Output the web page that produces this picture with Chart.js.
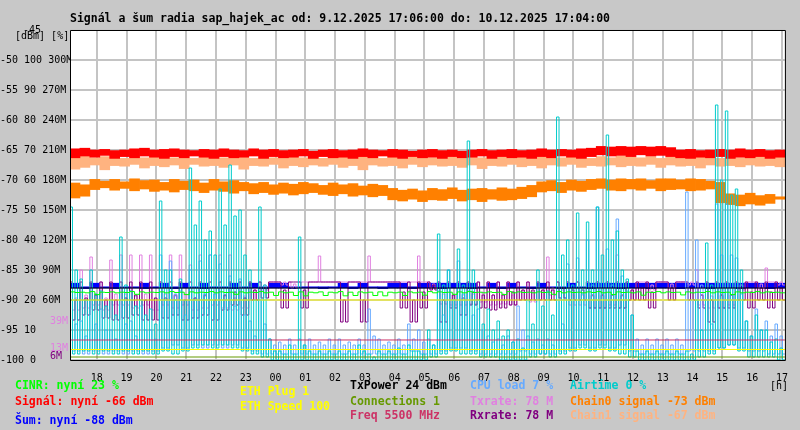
<!DOCTYPE html>
<html>
<head>
<meta charset="utf-8">
<script src="https://cdn.jsdelivr.net/npm/chart.js@4.4.1/dist/chart.umd.min.js"></script>
<style>
  html, body { margin: 0; padding: 0; background: #c8c8c8; }
  canvas { display: block; }
</style>
</head>
<body>
<canvas id="graf" width="800" height="430" style="width:800px;height:430px"></canvas>
<script>
// time: hours after 9.12. 17:00, samples in 20 min bins
// noisy series: peak (hi), floor (lo) and typical top (mid) of each bin
const hoursStart = 0.1;
const hoursEnd = 24.1;
const binHours = 1 / 3;
const hourTicks = [1,2,3,4,5,6,7,8,9,10,11,12,13,14,15,16,17,18,19,20,21,22,23,24];

// Airtime [%]
const airtimeHi = [51,27,30,23,20,41,23,20,17,53, 30,27,64,53,43,57,65,50,30,51, 7,3,5,41,3,3,3,3,3,5, 2,3,3,4,5,3,10,42,30,37, 73,20,17,13,10,7,20,30,23,81, 40,49,46,51,75,43,27,3,3,3, 3,3,3,20,39,85,83,57,13,15, 10,7];
const airtimeMid = [30,20,22,18,15,25,18,15,12,30, 20,20,45,40,35,45,48,35,20,25, 3,2,2,5,2,2,2,2,2,3, 1,2,2,2,3,2,5,25,20,25, 30,12,10,8,6,4,12,18,15,35, 25,30,30,35,40,30,15,2,2,2, 2,2,2,10,25,60,55,30,8,10, 6,4];
const airtimeLo = [2,3,2,3,2,3,2,3,2,3, 2,3,4,5,4,5,4,3,2,1, 0,0,0,0,0,0,0,0,0,0, 0,0,0,0,0,0,1,2,3,2, 2,1,1,0,0,0,1,2,1,2, 3,4,3,4,3,2,1,0,0,0, 0,0,0,1,2,4,5,3,1,1, 1,0];

// CPU load [%]
const cpuHi = [20,13,20,17,10,20,13,18,10,35, 33,23,30,33,35,32,28,27,13,20, 7,6,7,7,7,6,7,7,6,7, 17,7,6,7,12,10,7,23,30,33, 23,17,8,7,8,18,8,7,7,20, 32,34,40,51,37,47,23,7,7,7, 7,7,56,40,20,52,52,34,13,17, 13,12];
const cpuMid = [12,8,12,10,7,12,8,10,7,20, 22,15,20,22,22,20,18,15,8,12, 5,5,5,5,5,5,5,5,5,5, 8,5,5,5,7,6,5,15,20,22, 15,10,6,5,6,10,6,5,5,12, 20,22,25,30,25,28,15,5,5,5, 5,5,20,25,12,35,35,22,8,10, 8,8];
const cpuLo = [3,2,3,2,3,2,3,2,3,4, 5,4,5,4,5,4,5,4,3,2, 2,2,2,2,2,2,2,2,2,2, 2,2,2,2,3,2,2,3,4,4, 3,2,2,2,2,3,2,2,2,3, 4,5,4,5,4,5,3,2,2,2, 2,2,3,3,3,4,5,4,3,3, 2,2];

// Txrate / Rxrate [M]
const txrateHi = [78,90,103,78,100,105,105,105,105,78, 105,105,95,105,105,105,105,78,78,78, 78,78,78,78,78,104,78,78,78,78, 104,78,78,78,78,104,78,78,78,78, 78,78,78,78,78,78,78,78,103,78, 78,78,78,78,78,105,78,78,78,78, 78,78,78,90,78,78,78,78,78,78, 92,78];
const txrateMid = [62,65,66,62,66,66,64,66,62,66, 64,66,62,64,66,64,62,64,70,75, 78,78,76,78,78,78,78,78,78,78, 78,78,78,78,78,78,76,66,65,65, 66,68,65,66,65,70,68,70,72,70, 65,65,64,64,65,64,70,78,75,78, 76,78,78,65,64,64,65,75,78,76, 78,78];
const txrateLo = [50,52,55,50,55,55,52,55,50,55, 52,55,50,52,55,52,50,52,60,70, 78,75,72,78,78,78,78,78,78,78, 78,78,78,78,78,78,72,56,55,55, 56,58,55,56,55,60,58,60,65,60, 55,55,52,52,55,52,60,78,70,78, 72,78,75,55,52,52,55,70,78,72, 78,75];
const rxrateTop = 78;
const rxrateMid = [60,62,65,60,60,62,65,60,62,62, 65,60,62,65,60,65,68,62,70,72, 78,70,78,70,78,78,78,60,78,60, 78,78,78,68,60,68,75,60,65,62, 68,65,65,65,68,70,70,70,70,72, 70,70,65,65,65,65,70,72,68,78, 72,78,72,65,60,65,65,72,68,72, 68,72];
const rxrateLo = [40,45,50,42,40,42,45,40,40,42, 45,40,42,45,40,50,55,45,60,62, 78,52,78,52,78,78,78,38,78,38, 78,78,78,52,38,52,70,38,52,45, 55,52,50,52,55,60,60,60,60,62, 60,60,52,52,52,52,60,60,52,78, 60,78,60,52,38,52,52,60,52,60, 52,60];

// Signal, chains, noise [dBm] - upper / lower edge of the band in each bin
const signalHi = [-64.8,-64.7,-65.0,-64.9,-65.1,-65.0,-64.8,-64.7,-65.0,-64.9, -64.8,-65.0,-65.1,-64.9,-65.0,-64.8,-65.0,-65.1,-64.8,-65.0, -64.9,-65.1,-65.0,-64.9,-65.2,-65.0,-64.9,-65.1,-65.0,-64.8, -65.0,-65.1,-64.9,-65.0,-65.2,-65.0,-64.9,-65.1,-65.0,-65.2, -65.0,-64.9,-65.1,-65.0,-64.9,-65.1,-65.0,-64.8,-65.0,-64.9, -65.0,-64.8,-64.7,-64.4,-64.5,-64.4,-64.5,-64.4,-64.5,-64.4, -64.6,-65.0,-64.9,-65.1,-65.0,-64.9,-65.0,-64.8,-65.0,-64.9, -65.1,-65.0];
const signalLo = [-66.3,-66.0,-66.2,-65.9,-66.4,-66.1,-66.3,-66.0,-66.2,-66.4, -66.1,-66.3,-66.0,-66.2,-66.4,-66.1,-66.3,-66.2,-66.0,-66.4, -66.1,-66.3,-66.2,-66.0,-66.4,-66.1,-66.3,-66.2,-66.4,-66.1, -66.3,-66.0,-66.2,-66.4,-66.1,-66.3,-66.2,-66.4,-66.1,-66.3, -66.2,-66.0,-66.4,-66.1,-66.3,-66.2,-66.4,-66.1,-66.3,-66.0, -66.2,-66.4,-66.1,-65.8,-66.0,-65.9,-66.1,-65.8,-66.0,-65.9, -66.1,-66.3,-66.4,-66.2,-66.3,-66.1,-66.4,-66.2,-66.3,-66.1, -66.4,-66.2];
const chain1Hi = [-66.2,-66.0,-66.3,-66.1,-66.2,-66.4,-66.1,-66.3,-66.2,-66.0, -66.3,-66.1,-66.4,-66.2,-66.0,-66.3,-66.1,-66.2,-66.4,-66.1, -66.3,-66.2,-66.0,-66.3,-66.1,-66.4,-66.2,-66.1,-66.3,-66.0, -66.2,-66.4,-66.1,-66.3,-66.2,-66.0,-66.3,-66.1,-66.2,-66.4, -66.1,-66.3,-66.0,-66.2,-66.4,-66.1,-66.3,-66.2,-66.0,-66.3, -66.1,-66.2,-66.4,-66.1,-66.3,-66.0,-66.2,-66.3,-66.1,-66.4, -66.2,-66.0,-66.3,-66.1,-66.2,-66.4,-66.1,-66.3,-66.0,-66.2, -66.3,-66.1];
const chain1Lo = [-68.2,-67.9,-67.5,-68.3,-67.6,-67.7,-67.4,-68.0,-67.6,-67.8, -67.5,-68.1,-67.4,-67.7,-67.6,-67.9,-67.5,-68.2,-67.6,-67.7, -67.4,-68.0,-67.6,-67.8,-67.5,-67.7,-67.4,-67.9,-67.6,-68.3, -67.5,-67.7,-67.6,-68.0,-67.4,-67.8,-67.5,-67.7,-67.6,-67.9, -67.5,-68.1,-67.6,-67.7,-67.4,-67.8,-67.6,-68.0,-67.5,-67.7, -67.4,-67.9,-67.6,-67.7,-67.5,-67.8,-67.6,-67.7,-67.4,-67.9, -67.5,-67.7,-67.6,-68.0,-67.5,-67.7,-67.6,-67.8,-67.5,-67.7, -67.6,-67.8];
const chain0Hi = [-70.5,-70.8,-69.9,-70.2,-69.9,-70.3,-69.8,-70.1,-70.0,-70.4, -69.9,-70.2,-70.0,-70.5,-69.9,-70.3,-70.1,-70.4,-70.6,-70.4, -70.8,-70.5,-70.7,-70.4,-70.6,-70.9,-70.5,-70.8,-70.6,-71.0, -70.7,-70.9,-71.4,-71.7,-71.5,-71.8,-71.4,-71.6,-71.3,-71.7, -71.5,-71.4,-71.6,-71.3,-71.5,-71.2,-70.9,-70.3,-70.1,-70.4, -70.0,-70.2,-69.9,-69.8,-70.0,-69.8,-69.9,-69.8,-70.1,-69.8, -69.8,-70.0,-69.8,-69.9,-70.2,-70.4,-72.3,-72.5,-72.2,-72.6, -72.4,-72.8];
const chain0Lo = [-73.0,-72.7,-71.6,-71.3,-71.7,-71.4,-71.8,-71.5,-71.9,-71.7, -72.0,-71.6,-71.8,-72.1,-71.7,-71.9,-72.2,-71.8,-72.3,-72.1, -72.4,-72.2,-72.5,-72.3,-72.1,-72.4,-72.6,-72.3,-72.7,-72.5, -72.8,-72.6,-73.3,-73.5,-73.2,-73.6,-73.3,-73.4,-73.1,-73.5, -73.3,-73.6,-73.2,-73.4,-73.3,-73.1,-72.8,-72.0,-71.8,-72.1, -71.7,-71.9,-71.6,-71.4,-71.7,-71.8,-71.5,-71.7,-71.4,-71.8, -71.6,-71.5,-71.8,-71.7,-71.5,-73.8,-74.1,-74.3,-74.0,-74.2, -73.9,-73.2];
const noiseHi = [-87.2,-87.8,-87.2,-87.8,-87.2,-87.8,-87.8,-87.2,-87.8,-87.2, -87.8,-87.2,-87.8,-87.2,-87.8,-87.8,-87.2,-87.8,-87.2,-87.8, -87.2,-87.2,-87.8,-87.8,-87.8,-87.8,-87.8,-87.2,-87.8,-87.2, -87.8,-87.8,-87.2,-87.2,-87.8,-87.2,-87.2,-87.2,-87.2,-87.2, -87.2,-87.8,-87.2,-87.8,-87.2,-87.8,-87.8,-87.2,-87.8,-87.8, -87.2,-87.8,-87.2,-87.2,-87.2,-87.2,-87.2,-87.2,-87.2,-87.2, -87.2,-87.2,-87.2,-87.2,-87.2,-87.2,-87.2,-87.2,-87.2,-87.2, -87.2,-87.2];
const noiseLo = [-88.0,-88.1,-88.0,-88.0,-88.1,-88.0,-88.0,-88.1,-88.0,-88.0, -88.1,-88.0,-88.0,-88.1,-88.0,-88.0,-88.1,-88.0,-88.0,-88.1, -88.0,-88.0,-88.1,-88.0,-88.0,-88.1,-88.0,-88.0,-88.1,-88.0, -88.0,-88.1,-88.0,-88.0,-88.1,-88.0,-88.0,-88.1,-88.0,-88.0, -88.1,-88.0,-88.0,-88.1,-88.0,-88.0,-88.1,-88.0,-88.0,-88.1, -88.0,-88.0,-88.1,-88.0,-88.0,-88.1,-88.0,-88.0,-88.1,-88.0, -88.0,-88.1,-88.0,-88.0,-88.1,-88.0,-88.0,-88.1,-88.0,-88.0, -88.1,-88.0];

// CINR [%]
const cinrHi = [22.7,22.6,22.8,22.6,22.7,22.6,22.8,22.7,22.6,22.7, 22.8,22.6,22.7,22.6,22.8,22.7,22.6,22.7,22.6,22.8, 22.6,22.7,22.6,22.7,22.6,22.7,22.6,22.8,22.6,22.7, 22.6,22.7,22.6,22.6,22.7,22.6,22.8,22.7,22.6,22.7, 22.8,22.6,22.7,22.6,22.8,22.7,22.6,22.7,22.6,22.8, 22.7,22.6,22.7,22.8,22.6,22.7,22.6,22.7,22.6,22.8, 22.7,22.6,22.7,22.6,22.8,22.7,22.6,22.7,22.6,22.8, 22.7,22.6];
const cinrLo = [22.5,22.4,21.8,22.5,22.4,22.5,21.9,22.4,22.5,22.4, 22.5,21.8,22.4,22.5,22.4,22.5,21.9,22.4,22.5,22.4, 21.5,22.4,21.5,21.4,22.4,21.5,22.4,21.4,21.5,22.4, 21.5,21.4,22.4,21.5,22.4,21.6,22.4,22.5,21.9,22.4, 22.5,22.4,22.5,21.8,22.4,22.5,22.4,22.5,21.9,22.4, 22.5,22.4,22.5,22.4,21.8,22.5,22.4,21.6,22.5,22.4, 22.5,21.7,22.4,22.5,22.4,22.5,21.8,22.4,22.5,22.4, 22.5,22.4];

// constant lines, in the [%] column units of the graph
const txPowerLevel = 24;
const connectionsLevel = 1;
const freqLevel = 6.67;
const ethSpeedLevel = 20;
const ethPlugLevel = 3.5;

// labels in the left margin for the rate column [M]
const rateMarks = [39, 13, 6];
const rateMarkColors = ['#e080e0', '#e080e0', '#800080'];

const monoFont = '"DejaVu Sans Mono", "Liberation Mono", monospace';

function at(arr, i) { return Array.isArray(arr) ? arr[i] : arr; }

// hi, lo (and mid, lo) inside each bin
function binPoints(hi, lo, mid) {
  const pts = [];
  const step = mid ? binHours / 4 : binHours / 2;
  for (let i = 0; i < lo.length; i++) {
    const t = hoursStart + i * binHours;
    pts.push({ x: t, y: at(hi, i) });
    pts.push({ x: t + step, y: lo[i] });
    if (mid) {
      pts.push({ x: t + 2 * step, y: mid[i] });
      pts.push({ x: t + 3 * step, y: lo[i] });
    }
  }
  pts.push({ x: hoursEnd, y: lo[lo.length - 1] });
  return pts;
}

function flatPoints(v) {
  return [{ x: hoursStart, y: v }, { x: hoursEnd, y: v }];
}

function serie(data, color, axis, order) {
  return {
    type: 'line',
    data: data,
    parsing: false,
    borderColor: color,
    borderWidth: 1,
    pointRadius: 0,
    stepped: true,
    fill: false,
    yAxisID: axis,
    order: order
  };
}

// a band of min..max per bin, drawn as floating bars
function band(hi, lo, color, order) {
  return {
    type: 'bar',
    data: lo.map((l, i) => ({ x: hoursStart + (i + 0.5) * binHours, y: [l, hi[i]] })),
    backgroundColor: color,
    borderWidth: 0,
    barThickness: 10,
    grouped: false,
    yAxisID: 'y',
    order: order
  };
}

const legendItems = [
  ['CINR: nyní 23 %', 15, 386, '#00ff00'],
  ['Signál: nyní -66 dBm', 15, 402, '#ff0000'],
  ['Šum: nyní -88 dBm', 15, 421, '#0000ff'],
  ['ETH Plug 1', 240, 392, '#ffff00'],
  ['ETH Speed 100', 240, 407, '#ffff00'],
  ['TxPower 24 dBm', 350, 386, '#000000'],
  ['Connections 1', 350, 402, '#669900'],
  ['Freq 5500 MHz', 350, 416.5, '#cc3366'],
  ['CPU load 7 %', 470, 386, '#66aaff'],
  ['Txrate: 78 M', 470, 402, '#e080e0'],
  ['Rxrate: 78 M', 470, 416.5, '#800080'],
  ['Airtime 0 %', 570, 386, '#00cccc'],
  ['Chain0 signal -73 dBm', 570, 402, '#ff8000'],
  ['Chain1 signal -67 dBm', 570, 416.5, '#ffb380']
];

const rrdLook = {
  id: 'rrdLook',
  beforeDraw(chart) {
    const ctx = chart.ctx;
    const a = chart.chartArea;
    ctx.save();
    ctx.fillStyle = '#c8c8c8';
    ctx.fillRect(0, 0, chart.width, chart.height);
    ctx.fillStyle = '#ffffff';
    ctx.fillRect(a.left, a.top, a.right - a.left, a.bottom - a.top);
    ctx.restore();
  },
  afterDatasetsDraw(chart) {
    const ctx = chart.ctx;
    const a = chart.chartArea;
    ctx.save();
    ctx.strokeStyle = '#000';
    ctx.lineWidth = 1;
    ctx.beginPath();
    ctx.moveTo(a.left + 0.5, a.top + 0.5);
    ctx.lineTo(a.right + 0.5, a.top + 0.5);
    ctx.lineTo(a.right + 0.5, a.bottom + 0.5);
    ctx.lineTo(a.left + 0.5, a.bottom + 0.5);
    ctx.closePath();
    ctx.stroke();
    ctx.restore();
  },
  afterDraw(chart) {
    const ctx = chart.ctx;
    ctx.save();
    ctx.textBaseline = 'middle';
    ctx.textAlign = 'left';

    ctx.font = 'bold 11.5px ' + monoFont;
    ctx.fillStyle = '#000';
    ctx.fillText('Signál a šum radia sap_hajek_ac od: 9.12.2025 17:06:00 do: 10.12.2025 17:04:00', 70, 19);

    legendItems.forEach(([text, x, y, color]) => {
      ctx.fillStyle = color;
      ctx.fillText(text, x, y);
    });

    ctx.font = '10px ' + monoFont;
    ctx.fillStyle = '#000';
    ctx.fillText('-45', 23, 30);
    ctx.fillText('[dBm] [%]', 15, 36);
    ctx.fillText('[h]', 770, 386);

    const yM = chart.scales.yM;
    rateMarks.forEach((v, i) => {
      ctx.fillStyle = rateMarkColors[i];
      ctx.fillText(v + 'M', 50, yM.getPixelForValue(v) + i);
    });
    ctx.restore();
  }
};

new Chart(document.getElementById('graf'), {
  type: 'line',
  data: {
    datasets: [
      band(chain1Hi, chain1Lo, '#ffb380', 14),
      band(signalHi, signalLo, '#ff0000', 13),
      band(chain0Hi, chain0Lo, '#ff8000', 12),
      band(noiseHi, noiseLo, '#0000ff', 11.5),
      serie(binPoints(txrateHi, txrateLo, txrateMid), '#e080e0', 'yM', 11),
      serie(binPoints(rxrateTop, rxrateLo, rxrateMid), '#800080', 'yM', 10),
      serie(binPoints(cpuHi, cpuLo, cpuMid), '#66aaff', 'yPct', 8),
      serie(binPoints(airtimeHi, airtimeLo, airtimeMid), '#00cccc', 'yPct', 7),
      serie(flatPoints(txPowerLevel), '#000000', 'yPct', 6),
      serie(binPoints(cinrHi, cinrLo), '#00ff00', 'yPct', 5),
      serie(flatPoints(ethSpeedLevel), '#ffff00', 'yPct', 4),
      serie(flatPoints(freqLevel), '#cc3366', 'yPct', 3),
      serie(flatPoints(ethPlugLevel), '#ffff00', 'yPct', 2),
      serie(flatPoints(connectionsLevel), '#669900', 'yPct', 1)
    ]
  },
  options: {
    responsive: false,
    animation: false,
    devicePixelRatio: 1,
    layout: { padding: { top: 30, right: 10, left: 0, bottom: 0 } },
    plugins: { legend: { display: false }, tooltip: { enabled: false }, title: { display: false } },
    scales: {
      x: {
        type: 'linear',
        min: hoursStart,
        max: hoursEnd,
        offset: false,
        afterFit(scale) { scale.height = 70; },
        afterBuildTicks(scale) { scale.ticks = hourTicks.map(v => ({ value: v })); },
        border: { display: false },
        grid: { color: '#c4c4c4', lineWidth: 2, drawTicks: false, offset: false },
        ticks: {
          autoSkip: false,
          maxRotation: 0,
          padding: 12,
          color: '#000',
          font: { family: monoFont, size: 10 },
          callback(v) { return String((17 + v) % 24).padStart(2, '0'); }
        }
      },
      y: {
        position: 'left',
        min: -100,
        max: -45,
        afterFit(scale) { scale.width = 70; },
        border: { display: false },
        grid: { color: '#c4c4c4', lineWidth: 2, drawTicks: false },
        ticks: {
          stepSize: 5,
          crossAlign: 'far',
          padding: 0,
          color: '#000',
          font: { family: monoFont, size: 10 },
          callback(v) {
            if (v === -45) return '';
            const pct = (v + 100) * 2;
            const mb = (v + 100) * 6;
            if (v <= -95) return v + ' ' + pct;
            return v + ' ' + pct + ' ' + mb + 'M';
          }
        }
      },
      yPct: { display: false, min: 0, max: 110 },
      yM: { display: false, min: 0, max: 330 }
    }
  },
  plugins: [rrdLook]
});
</script>
</body>
</html>
